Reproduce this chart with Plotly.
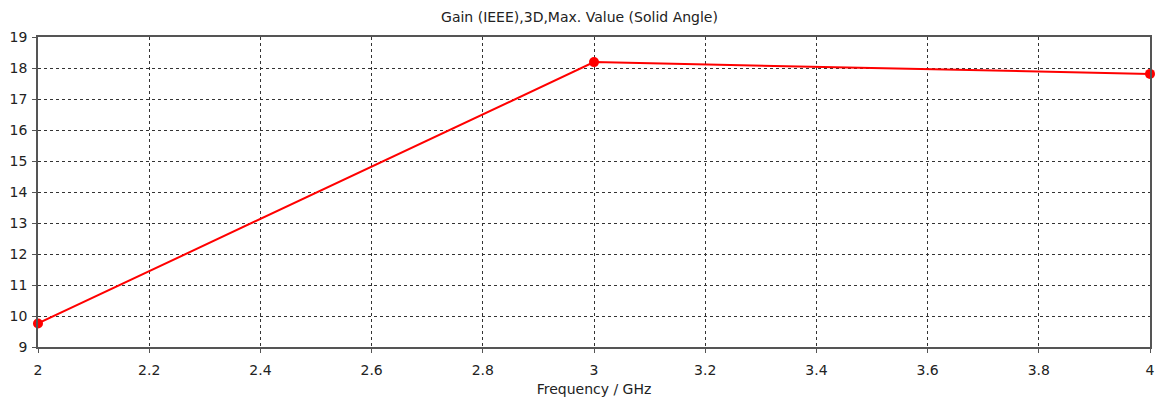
import plotly.graph_objects as go

freq = [2.0, 3.0, 4.0]
gain = [9.76, 18.19, 17.81]
x_ticks = [2, 2.2, 2.4, 2.6, 2.8, 3, 3.2, 3.4, 3.6, 3.8, 4]
y_ticks = list(range(9, 20))

fnt = dict(family="DejaVu Sans, Tahoma, sans-serif", size=14, color="#222")

fig = go.Figure()
fig.add_trace(go.Scatter(
    x=freq, y=gain, mode="lines+markers", cliponaxis=False,
    line=dict(color="#ff0000", width=2),
    marker=dict(color="#ff0000", size=10),
))

axis_common = dict(
    showline=True, linecolor="#555", linewidth=1.5, mirror=True,
    showgrid=True, gridcolor="#333", griddash="3px,3px", gridwidth=1,
    ticks="outside", ticklen=4, tickcolor="#555",
    zeroline=False, tickfont=fnt,
)

fig.update_layout(
    width=1159, height=406,
    margin=dict(l=38, r=4, t=37, b=59),
    paper_bgcolor="white", plot_bgcolor="white",
    showlegend=False,
    title=dict(text="Gain (IEEE),3D,Max. Value (Solid Angle)", x=0.5, xanchor="center",
               y=0.958, yanchor="middle", font=dict(family=fnt["family"], size=14, color="#222")),
    xaxis=dict(range=[2, 4], tickvals=x_ticks, ticktext=[str(v) for v in x_ticks],
               ticklabelstandoff=5,
               title=dict(text="Frequency / GHz", font=fnt, standoff=8), **axis_common),
    yaxis=dict(range=[9, 19], tickvals=y_ticks, ticklabelstandoff=2, **axis_common),
)

fig.write_html("out.html")
